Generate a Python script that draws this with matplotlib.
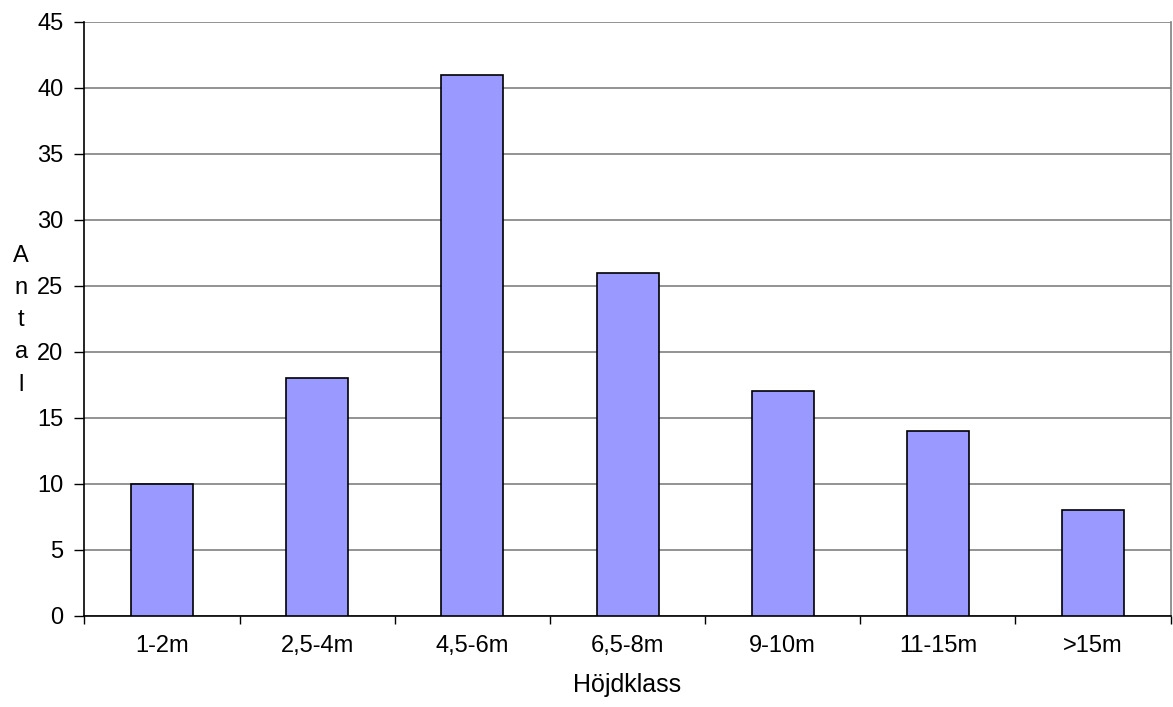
import matplotlib
matplotlib.use('Agg')
import matplotlib.pyplot as plt
import numpy as np

plt.rcParams['font.family'] = ['Liberation Sans', 'DejaVu Sans']

# height classes and counts
klasser = ['1-2m', '2,5-4m', '4,5-6m', '6,5-8m', '9-10m', '11-15m', '>15m']
antal = [10, 18, 41, 26, 17, 14, 8]

BAR = '#9999FF'
GRID = '#808080'
FS = 17

fig = plt.figure(figsize=(11.73, 7.07), dpi=100)
ax = fig.add_axes([0.072, 0.129, 0.926, 0.840])

x = np.arange(len(klasser))
ax.bar(x, antal, width=0.40, color=BAR, edgecolor='black', linewidth=1.2, zorder=3)

ax.set_xlim(-0.5, len(klasser) - 0.5)
ax.set_ylim(0, 45)
ax.set_yticks(range(0, 46, 5))
ax.yaxis.grid(True, color=GRID, linewidth=1.2, zorder=0)
ax.set_axisbelow(True)

# category ticks sit on the boundaries, labels centred under bars
ax.set_xticks(np.arange(len(klasser) + 1) - 0.5)
ax.set_xticklabels([])
ax.set_xticks(x, minor=True)
ax.set_xticklabels(klasser, minor=True)
ax.tick_params(axis='x', which='minor', length=0, pad=14, labelsize=FS)
ax.tick_params(axis='x', which='major', length=6, width=1, direction='out')
ax.tick_params(axis='y', length=7, width=1, direction='out', pad=8, labelsize=FS)

for s in ['left', 'bottom']:
    ax.spines[s].set_color('black')
    ax.spines[s].set_linewidth(1.2)
ax.spines['top'].set_visible(False)
ax.spines['right'].set_color(GRID)
ax.spines['right'].set_linewidth(1.2)

ax.set_xlabel('Höjdklass', fontsize=FS + 1, labelpad=11)
fig.text(0.018, 0.547, 'A\nn\nt\na\nl', fontsize=FS, ha='center', va='center',
         linespacing=1.6)

fig.savefig('out.png', dpi=100)
